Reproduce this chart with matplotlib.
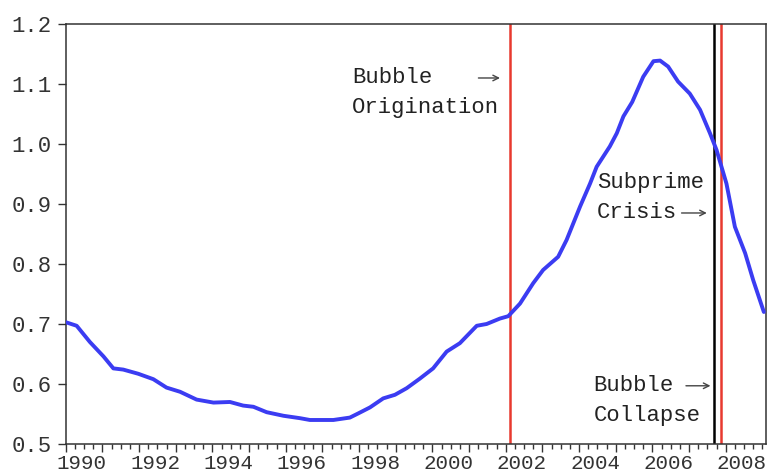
import numpy as np
import matplotlib
matplotlib.use("Agg")
import matplotlib.pyplot as plt
import matplotlib.transforms as mtransforms

plt.rcParams['font.family'] = ['Liberation Mono', 'DejaVu Sans']

# ratio series (decimal years)
years = [1990.00, 1990.30, 1990.66, 1991.03, 1991.30, 1991.57, 1991.98, 1992.39,
         1992.75, 1993.12, 1993.57, 1994.03, 1994.48, 1994.84, 1995.12, 1995.48,
         1995.94, 1996.39, 1996.66, 1997.30, 1997.75, 1997.98, 1998.30, 1998.66,
         1998.98, 1999.30, 1999.66, 2000.02, 2000.39, 2000.75, 2001.21, 2001.48,
         2001.84, 2002.07, 2002.39, 2002.75, 2003.02, 2003.43, 2003.66, 2004.03,
         2004.30, 2004.48, 2004.84, 2005.03, 2005.21, 2005.45, 2005.75, 2006.03,
         2006.21, 2006.43, 2006.70, 2007.02, 2007.30, 2007.57, 2007.75, 2008.02,
         2008.25, 2008.53, 2008.75, 2009.04]
ratio = [0.703, 0.697, 0.670, 0.646, 0.626, 0.624, 0.617, 0.608,
         0.594, 0.587, 0.574, 0.569, 0.570, 0.564, 0.562, 0.553,
         0.547, 0.543, 0.540, 0.540, 0.544, 0.551, 0.561, 0.576,
         0.582, 0.593, 0.609, 0.626, 0.654, 0.668, 0.697, 0.700,
         0.709, 0.713, 0.734, 0.768, 0.790, 0.812, 0.840, 0.896,
         0.934, 0.962, 0.996, 1.018, 1.046, 1.070, 1.112, 1.138,
         1.139, 1.129, 1.104, 1.084, 1.057, 1.018, 0.990, 0.934,
         0.862, 0.818, 0.773, 0.720]

# event dates
red_dates = [2002.12, 2007.86]
black_dates = [2007.69]

ytick_vals = [0.5, 0.6, 0.7, 0.8, 0.9, 1.0, 1.1, 1.2]
xtick_years = list(range(1990, 2009))

fig = plt.figure(figsize=(7.7, 4.75), dpi=100)
ax = fig.add_axes([0.0853, 0.0653, 0.9091, 0.8842])

ax.plot(years, ratio, color='#3b3cf2', lw=2.8, solid_capstyle='round',
        solid_joinstyle='round', zorder=3)
for d in red_dates:
    ax.axvline(d, color='#e8392f', lw=1.8, zorder=2)
for d in black_dates:
    ax.axvline(d, color='black', lw=1.8, zorder=2)

ax.set_xlim(1990, 2009.09)
ax.set_ylim(0.5, 1.2)

# ticks
ax.set_yticks(ytick_vals)
ax.set_yticklabels(['%.1f' % v for v in ytick_vals])
ax.set_xticks(xtick_years)
ax.set_xticklabels([str(y) if y % 2 == 0 else '' for y in xtick_years])
ax.set_xticks(np.arange(1990, 2009.1, 0.25), minor=True)
ax.tick_params(axis='both', which='major', direction='out', length=6, width=1,
               color='#333333', labelsize=16, labelcolor='#333333', pad=4)
ax.tick_params(axis='x', which='major', labelsize=15, pad=1.5)
ax.tick_params(axis='x', which='minor', direction='out', length=3.5, width=1,
               color='#333333')
ax.tick_params(axis='y', which='minor', length=0)
offset = mtransforms.ScaledTranslation(0.16, 0, fig.dpi_scale_trans)
for lab in ax.get_xticklabels():
    lab.set_transform(lab.get_transform() + offset)

for s in ax.spines.values():
    s.set_color('#333333')
    s.set_linewidth(1.1)

# annotations
tc = '#222222'
fs = 16
ax.text(1997.81, 1.11, 'Bubble', fontsize=fs, color=tc, va='center', ha='left')
ax.text(1997.81, 1.06, 'Origination', fontsize=fs, color=tc, va='center', ha='left')
ax.annotate('', xy=(2001.92, 1.11), xytext=(2001.18, 1.11),
            arrowprops=dict(arrowstyle='->', color='#444444', lw=1))

ax.text(2004.48, 0.935, 'Subprime', fontsize=fs, color=tc, va='center', ha='left')
ax.text(2004.48, 0.885, 'Crisis', fontsize=fs, color=tc, va='center', ha='left')
ax.annotate('', xy=(2007.56, 0.885), xytext=(2006.72, 0.885),
            arrowprops=dict(arrowstyle='->', color='#444444', lw=1))

ax.text(2004.39, 0.597, 'Bubble', fontsize=fs, color=tc, va='center', ha='left')
ax.text(2004.39, 0.548, 'Collapse', fontsize=fs, color=tc, va='center', ha='left')
ax.annotate('', xy=(2007.66, 0.597), xytext=(2006.84, 0.597),
            arrowprops=dict(arrowstyle='->', color='#444444', lw=1))

fig.savefig('out.png', dpi=100)
